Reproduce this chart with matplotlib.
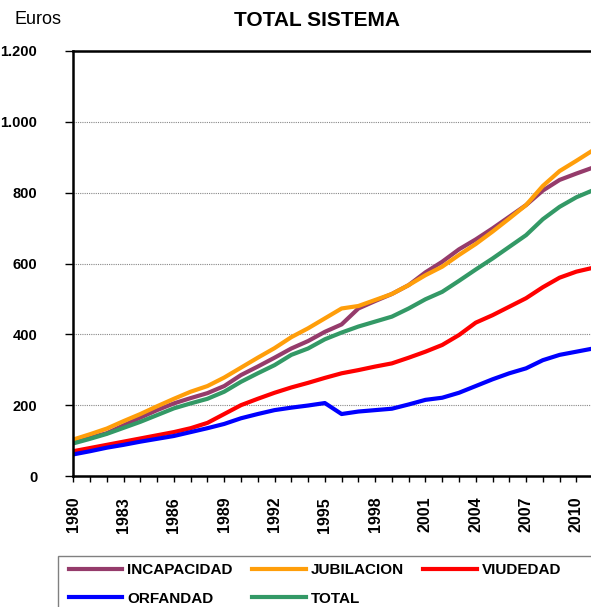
import matplotlib
matplotlib.use("Agg")
import matplotlib.pyplot as plt
from matplotlib.patches import Rectangle
from matplotlib.ticker import MultipleLocator, FuncFormatter

plt.rcParams['font.family'] = ['Liberation Sans', 'DejaVu Sans']

years = list(range(1980, 2012))

incapacidad = [96, 108, 121, 143, 165, 186, 205, 220, 234, 254, 285, 309, 334, 360, 381, 407,
               428, 473, 494, 514, 539, 575, 605, 640, 668, 699, 732, 765, 806, 836, 854, 871]
jubilacion = [103, 118, 134, 155, 175, 197, 218, 238, 254, 278, 306, 334, 361, 392, 417, 445,
              473, 480, 497, 514, 539, 567, 591, 624, 655, 690, 727, 765, 819, 861, 890, 920]
viudedad = [70, 79, 88, 97, 106, 115, 124, 135, 150, 175, 200, 218, 235, 250, 263, 277,
            290, 299, 309, 318, 334, 351, 370, 398, 433, 454, 478, 502, 533, 560, 577, 588]
orfandad = [61, 70, 80, 88, 97, 105, 113, 124, 135, 147, 163, 175, 186, 193, 199, 206,
            175, 182, 186, 190, 202, 215, 221, 235, 254, 273, 290, 304, 327, 342, 351, 360]
total = [92, 105, 119, 136, 153, 172, 191, 205, 218, 238, 266, 290, 313, 342, 360, 386,
         405, 422, 436, 450, 473, 499, 520, 551, 583, 614, 647, 680, 725, 760, 787, 807]

series = [
    ('INCAPACIDAD', incapacidad, '#953B6B'),
    ('JUBILACION', jubilacion, '#FF9E0A'),
    ('VIUDEDAD', viudedad, '#FF0000'),
    ('ORFANDAD', orfandad, '#0000FF'),
    ('TOTAL', total, '#339966'),
]

W, H = 591, 607
fig = plt.figure(figsize=(W / 100, H / 100), dpi=100)
# the axes run past the right edge, the source chart is cropped there
ax = fig.add_axes([73.3 / W, 1 - 476 / H, 536.6 / W, 425 / H])

lines = {}
for name, vals, col in series:
    lines[name], = ax.plot(years, vals, color=col, lw=3, label=name)

ax.set_xlim(1980, 2012)
ax.set_ylim(0, 1200)
ax.xaxis.set_major_locator(MultipleLocator(3))
ax.xaxis.set_minor_locator(MultipleLocator(1))
ax.yaxis.set_major_locator(MultipleLocator(200))
ax.yaxis.set_major_formatter(FuncFormatter(lambda v, p: f"{int(v):,}".replace(',', '.')))

ax.grid(axis='y', color='#888888', linestyle=(0, (1, 1)), lw=0.8)
ax.set_axisbelow(True)

for s in ['left', 'bottom', 'top']:
    ax.spines[s].set_linewidth(1.8)
ax.spines['right'].set_visible(False)

ax.tick_params(axis='x', which='both', direction='out', length=4, width=1)
ax.tick_params(axis='x', labelsize=11.5, pad=11)
ax.tick_params(axis='y', direction='out', length=6, width=1, labelsize=10.5, pad=20)
for lab in ax.get_xticklabels():
    lab.set_rotation(90)
    lab.set_fontweight('bold')
for lab in ax.get_yticklabels():
    lab.set_fontweight('bold')

fig.text(317 / W, 1 - 20 / H, 'TOTAL SISTEMA', ha='center', va='center',
         fontsize=15, fontweight='bold')
fig.text(14 / W, 1 - 19 / H, 'Euros', ha='left', va='center', fontsize=13)

# legend filled row by row (matplotlib fills columns first)
order = ['INCAPACIDAD', 'ORFANDAD', 'JUBILACION', 'TOTAL', 'VIUDEDAD']
fig.legend([lines[n] for n in order], order, loc='upper left',
           bbox_to_anchor=(69 / W, 1 - 563 / H), ncol=3, frameon=False,
           handlelength=3.5, columnspacing=1.3, handletextpad=0.3, borderpad=0,
           borderaxespad=0, labelspacing=0.95, prop={'weight': 'bold', 'size': 11})
fig.patches.append(Rectangle((58 / W, -0.05), 0.95, 1 - 556 / H + 0.05,
                             transform=fig.transFigure, fill=False,
                             edgecolor='#808080', lw=1))

fig.savefig('out.png', dpi=100)
